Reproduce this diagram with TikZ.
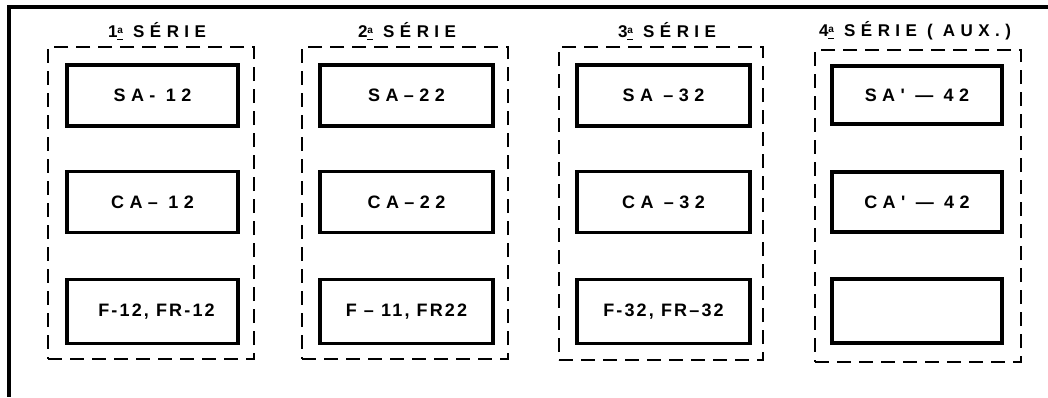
\documentclass[tikz,border=0pt]{standalone}
\usepackage{fontspec}
\setmainfont{Liberation Sans}
\newfontfamily\labfont[LetterSpace=30]{Liberation Sans}
\newfontfamily\labtight[LetterSpace=12]{Liberation Sans}
\newfontfamily\titfont[LetterSpace=32]{Liberation Sans}
\begin{document}
\begin{tikzpicture}[x=1pt,y=-1pt,
  unit/.style={draw,line width=3.4pt,rectangle,minimum height=61pt,inner sep=0pt,
    font=\labfont\bfseries\fontsize{18}{18}\selectfont},
  tight/.style={font=\labtight\bfseries\fontsize{18}{18}\selectfont},
  group/.style={draw,line width=2pt,dash pattern=on 14pt off 8pt,rectangle,inner sep=0pt},
  title/.style={font=\titfont\bfseries\fontsize{17}{17}\selectfont,inner sep=0pt}]
\useasboundingbox (0,0) rectangle (1048,397);
\fill[white] (0,0) rectangle (1048,397);
% outer frame
\draw[line width=3.2pt] (1048,7) -- (9,7) -- (9,397);
% groups
\node[group,minimum width=206pt,minimum height=312pt] (g1) at (151,203) {};
\node[group,minimum width=206pt,minimum height=312pt] (g2) at (405,203) {};
\node[group,minimum width=204pt,minimum height=313pt] (g3) at (661,203.5) {};
\node[group,minimum width=206pt,minimum height=312pt] (g4) at (918,206) {};
% titles
\newcommand\ordA{\underline{\raisebox{0.5ex}{\fontsize{10}{10}\selectfont a}}}
\node[title] (t1) at (157,31) {1\ordA\ SÉRIE};
\node[title] (t2) at (407,31) {2\ordA\ SÉRIE};
\node[title] (t3) at (667,31) {3\ordA\ SÉRIE};
\node[title] (t4) at (915,31) {4\ordA\ SÉRIE ( AUX.)};
% units
\node[unit,minimum width=171pt] (sa12) at (152.5,95.5) {SA- 12};
\node[unit,minimum width=171pt] (ca12) at (152.5,202) {CA– 12};
\node[unit,tight,minimum width=171pt,minimum height=64pt] (f12) at (152.5,311.5) {\hspace*{8pt}F-12, FR-12};
\node[unit,minimum width=173pt] (sa22) at (406.5,95.5) {SA–22};
\node[unit,minimum width=173pt] (ca22) at (406.5,202) {CA–22};
\node[unit,tight,minimum width=173pt,minimum height=64pt] (f22) at (406.5,311.5) {F – 11, FR22};
\node[unit,minimum width=173pt] (sa32) at (663.5,95.5) {SA –32};
\node[unit,minimum width=173pt] (ca32) at (663.5,202) {CA –32};
\node[unit,tight,minimum width=173pt,minimum height=64pt] (f32) at (663.5,311.5) {F-32, FR–32};
\node[unit,minimum width=170pt,minimum height=58pt] (sa42) at (917,95) {SA' — 42};
\node[unit,minimum width=170pt,minimum height=60pt] (ca42) at (917,202) {CA' — 42};
\node[unit,minimum width=170pt,minimum height=64pt] (x42) at (917,311) {};
\end{tikzpicture}
\end{document}
